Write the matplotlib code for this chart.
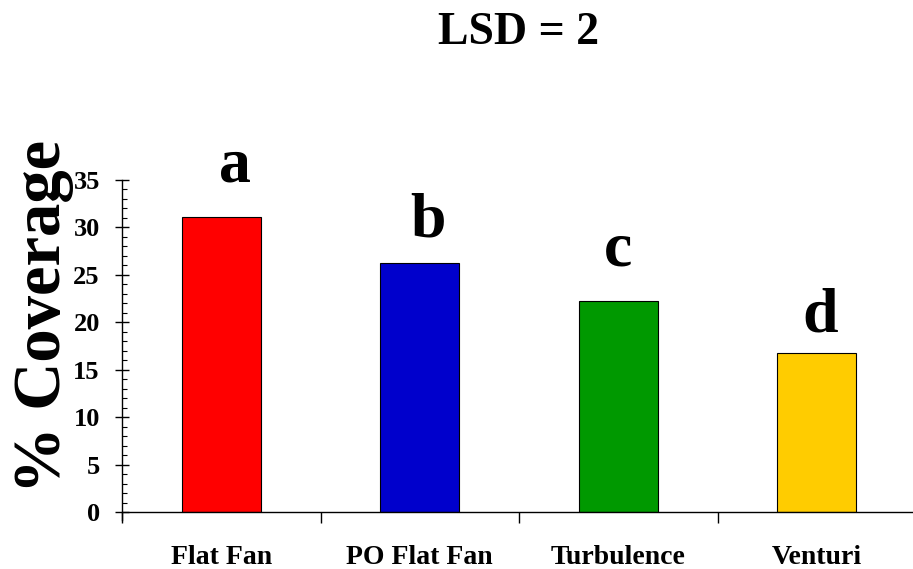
import numpy as np
import matplotlib.pyplot as plt
from matplotlib.ticker import MultipleLocator, FixedLocator

# data
nozzles = ['Flat Fan', 'PO Flat Fan', 'Turbulence', 'Venturi']
coverage = [31.1, 26.2, 22.2, 16.8]
groups = ['a', 'b', 'c', 'd']
group_y = [34.8, 29.0, 26.0, 19.0]
group_dx = [0.07, 0.04, 0.0, 0.015]
colors = ['#FF0000', '#0000CC', '#009900', '#FFCC00']

plt.rcParams['font.family'] = ['Liberation Serif', 'DejaVu Serif']
plt.rcParams['font.weight'] = 'bold'

fig = plt.figure(figsize=(9.13, 5.69), dpi=100)
ax = fig.add_axes([122/913, 1 - 512/569, 794/913, 332/569])

x = np.arange(len(nozzles))
ax.bar(x, coverage, width=0.4, color=colors, edgecolor='black', linewidth=0.8)

for xi, g, gy, dx in zip(x, groups, group_y, group_dx):
    ax.text(xi + dx, gy, g, ha='center', va='baseline', fontsize=46, fontweight='bold')

ax.set_xlim(-0.5, 3.5)
ax.set_ylim(0, 35)

ax.yaxis.set_major_locator(MultipleLocator(5))
ax.yaxis.set_minor_locator(MultipleLocator(1))
ax.tick_params(axis='y', which='major', direction='inout', length=10, width=1, labelsize=19, pad=11)
ax.tick_params(axis='y', which='minor', direction='in', length=3.5, width=0.8)

ax.xaxis.set_major_locator(FixedLocator([-0.5, 0.5, 1.5, 2.5]))
ax.xaxis.set_minor_locator(FixedLocator(x))
ax.xaxis.set_major_formatter(plt.NullFormatter())
ax.set_xticks(x, nozzles, minor=True)
ax.tick_params(axis='x', which='major', direction='out', length=8, width=1)
ax.tick_params(axis='x', which='minor', length=0, labelsize=20, pad=24)

for lbl in ax.get_xticklabels(minor=True) + ax.get_yticklabels():
    lbl.set_fontweight('bold')

ax.spines['top'].set_visible(False)
ax.spines['right'].set_visible(False)
ax.spines['left'].set_linewidth(1)
ax.spines['bottom'].set_linewidth(1)
ax.spines['left'].set_bounds(-0.8, 35)

# y label sits high, left of the tick labels
fig.text(43/913, 1 - 316/569, '% Coverage', rotation=90, ha='center', va='center',
         fontsize=48, fontweight='bold')
fig.text(519/913, 1 - 33/569, 'LSD = 2', ha='center', va='center', fontsize=33, fontweight='bold')

fig.savefig('out.png', dpi=100)
